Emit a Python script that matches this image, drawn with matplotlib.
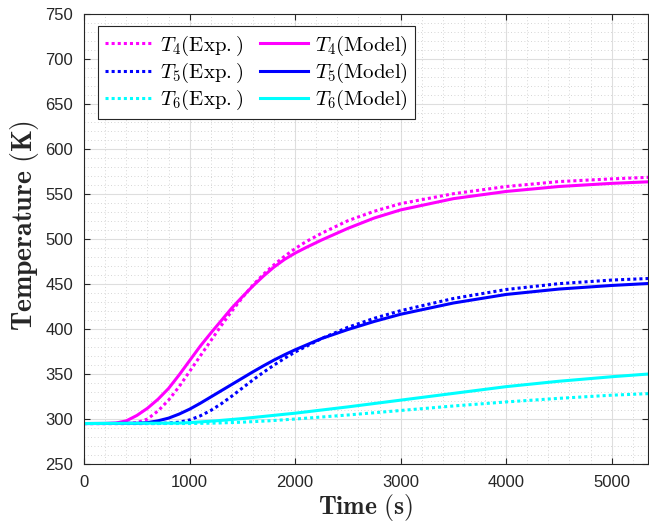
import matplotlib
matplotlib.use('Agg')
import matplotlib.pyplot as plt
from matplotlib.ticker import MultipleLocator

# temperature histories (time in s, temperature in K)
t4_exp_t = [0, 400, 500, 600, 700, 800, 900, 1000, 1100, 1200, 1300, 1400, 1500, 1600, 1700,
            1800, 1900, 2000, 2100, 2250, 2500, 2750, 3000, 3500, 4000, 4500, 5000, 5400]
t4_exp = [295, 295, 296, 300, 309, 321, 336, 353, 370, 387, 404, 420, 435, 449, 461,
          471.5, 481, 489.5, 497, 506.5, 520.5, 531, 539.5, 550.5, 558.5, 564, 567, 569]

t4_mod_t = [0, 200, 300, 400, 500, 600, 700, 800, 900, 1000, 1100, 1200, 1300, 1400, 1500, 1600,
            1700, 1800, 1900, 2000, 2100, 2250, 2500, 2750, 3000, 3500, 4000, 4500, 5000, 5400]
t4_mod = [295, 295, 295.5, 298, 304, 312, 322, 334, 349, 365, 381, 395.5, 409.5, 423.5, 436, 448,
          459, 469, 477.5, 484.5, 490.5, 499, 512, 523.5, 532.5, 545, 553, 558.5, 562, 564]

t5_exp_t = [0, 700, 800, 900, 1000, 1100, 1200, 1300, 1400, 1500, 1600, 1700, 1800, 1900,
            2000, 2250, 2500, 2750, 3000, 3500, 4000, 4500, 5000, 5400]
t5_exp = [295, 295, 295.5, 296.5, 299, 303.5, 309.5, 317, 325.5, 334.5, 343.5, 352, 360, 367.5,
          374.5, 389.5, 402, 412, 420.5, 434, 444, 450.5, 454.5, 456.5]

t5_mod_t = [0, 500, 600, 700, 800, 900, 1000, 1100, 1200, 1300, 1400, 1500, 1600, 1700, 1800,
            1900, 2000, 2250, 2500, 2750, 3000, 3500, 4000, 4500, 5000, 5400]
t5_mod = [295, 295.3, 296, 298, 301, 305.5, 311, 317.5, 324.5, 331.5, 338.5, 345.5, 352.5, 359.2,
          365.6, 371.5, 377, 389.5, 399.5, 408.5, 416.5, 429, 438.5, 444.5, 448.5, 451]

t6_exp_t = [0, 1000, 1250, 1500, 1750, 2000, 2500, 3000, 3500, 4000, 4500, 5000, 5400]
t6_exp = [295, 295, 295.5, 296.5, 298, 300, 304.5, 309.5, 314.5, 319, 323, 326.5, 328.5]

t6_mod_t = [0, 900, 1000, 1250, 1500, 1750, 2000, 2500, 3000, 3500, 4000, 4500, 5000, 5400]
t6_mod = [295, 295.5, 296, 298, 300.5, 303.5, 306.5, 313.5, 321, 328.5, 336, 342, 347, 350.5]

plt.rcParams['mathtext.fontset'] = 'cm'
plt.rcParams['font.family'] = ['Liberation Sans', 'DejaVu Sans']

fig = plt.figure(figsize=(6.49, 5.21), dpi=100)
ax = fig.add_axes([0.1297, 0.1094, 0.8688, 0.8632])

dot = dict(linestyle=(0, (1, 1)), lw=2.2)
sol = dict(linestyle='-', lw=2.2)
ax.plot(t4_exp_t, t4_exp, color='#ff00ff', label=r'$T_4\mathrm{(Exp.)}$', **dot)
ax.plot(t5_exp_t, t5_exp, color='#0000ff', label=r'$T_5\mathrm{(Exp.)}$', **dot)
ax.plot(t6_exp_t, t6_exp, color='#00ffff', label=r'$T_6\mathrm{(Exp.)}$', **dot)
ax.plot(t4_mod_t, t4_mod, color='#ff00ff', label=r'$T_4\mathrm{(Model)}$', **sol)
ax.plot(t5_mod_t, t5_mod, color='#0000ff', label=r'$T_5\mathrm{(Model)}$', **sol)
ax.plot(t6_mod_t, t6_mod, color='#00ffff', label=r'$T_6\mathrm{(Model)}$', **sol)

ax.set_xlim(0, 5345)
ax.set_ylim(250, 750)
ax.xaxis.set_major_locator(MultipleLocator(1000))
ax.xaxis.set_minor_locator(MultipleLocator(200))
ax.yaxis.set_major_locator(MultipleLocator(50))
ax.yaxis.set_minor_locator(MultipleLocator(10))

ax.grid(which='major', color='#dedede', lw=0.8, linestyle='-')
ax.grid(which='minor', color='#c8c8c8', lw=0.6, linestyle=(0, (1, 3)))
ax.set_axisbelow(True)
ax.tick_params(which='major', direction='in', top=True, right=True, length=4,
               labelsize=12, colors='#262626', width=0.8, pad=8)
ax.tick_params(which='minor', length=0)
for s in ax.spines.values():
    s.set_color('#262626')
    s.set_linewidth(0.8)

ax.set_xlabel(r'$\mathbf{Time\ (s)}$', fontsize=18.5, color='#262626', labelpad=1)
ax.set_ylabel(r'$\mathbf{Temperature\ (K)}$', fontsize=20, color='#262626',
              va='center', ha='center')
ax.yaxis.set_label_coords(-0.106, 0.53)

leg = ax.legend(loc='upper left', ncol=2, fontsize=15, bbox_to_anchor=(0.024, 0.973),
                handlelength=2.3, handletextpad=0.35, columnspacing=0.8,
                labelspacing=0.14, borderpad=0.35, borderaxespad=0.0, fancybox=False)
leg.get_frame().set_edgecolor('#262626')
leg.get_frame().set_linewidth(0.8)
leg.get_frame().set_alpha(1)

fig.savefig('out.png', dpi=100)
